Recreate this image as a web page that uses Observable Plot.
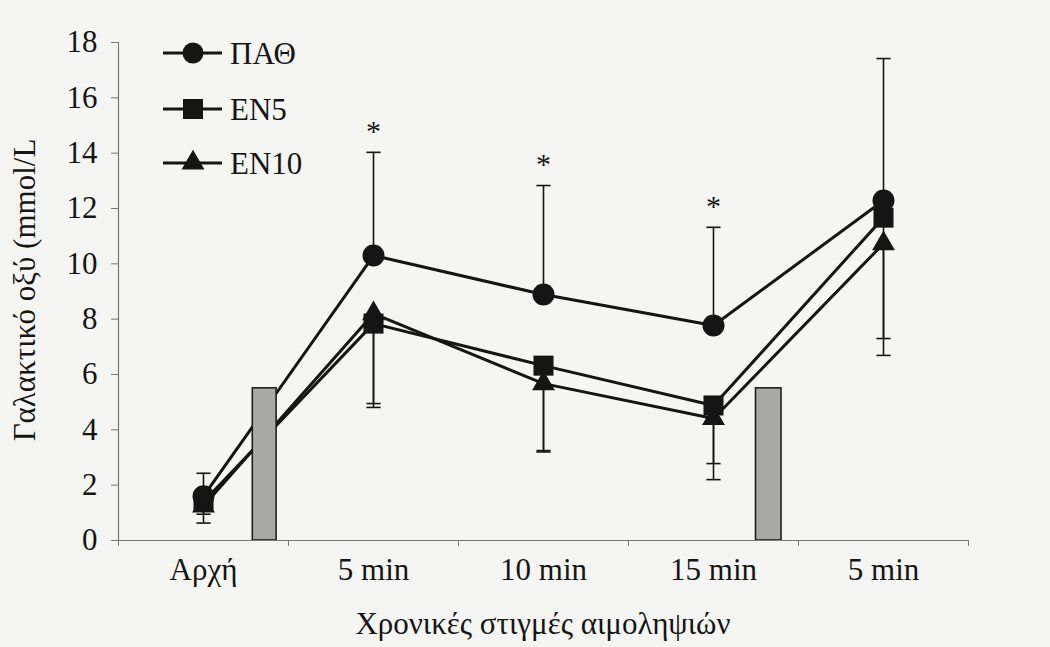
<!DOCTYPE html>
<html>
<head>
<meta charset="utf-8">
<script src="https://cdn.jsdelivr.net/npm/d3@7"></script>
<script src="https://cdn.jsdelivr.net/npm/@observablehq/plot@0.6"></script>
<style>
  html, body { margin: 0; padding: 0; background: #f5f5f3; }
  #chart { width: 1050px; height: 647px; overflow: hidden; }
</style>
</head>
<body>
<div id="chart"></div>
<script>
// ---- data ----
const categories = ["Αρχή", "5 min", "10 min", "15 min", "5 min"];
const pathMean  = [1.60, 10.30, 8.89, 7.77, 12.29];
const en5Mean   = [1.40, 7.84, 6.32, 4.88, 11.67];
const en10Mean  = [1.25, 8.20, 5.67, 4.41, 10.73];
const pathUpper = [2.43, 14.03, 12.83, 11.32, 17.42];
const en5Lower  = [0.95, 4.95, 3.25, 2.78, 7.30];
const en10Lower = [0.63, 4.81, 3.20, 2.20, 6.69];
const significant = [false, true, true, true, false];
const boutStart  = [0.29, 3.25];
const boutEnd    = [0.43, 3.40];
const boutHeight = [5.5, 5.5];
const yTicks = [0, 2, 4, 6, 8, 10, 12, 14, 16, 18];
const seriesNames = ["ΠΑΘ", "EN5", "EN10"];
const xTitle = "Χρονικές στιγμές αιμοληψιών";
const yTitle = "Γαλακτικό οξύ (mmol/L";

// ---- tables ----
const idx = categories.map((_, i) => i);
const rows = (means, ends) => idx.map(i => ({x: i, mean: means[i], end: ends ? ends[i] : null}));
const pathRows = rows(pathMean, pathUpper);
const en5Rows = rows(en5Mean, en5Lower);
const en10Rows = rows(en10Mean, en10Lower);
const stars = idx.filter(i => significant[i]).map(i => ({x: i, y: pathUpper[i]}));
const bouts = boutStart.map((s, i) => ({x1: s, x2: boutEnd[i], h: boutHeight[i]}));
const bounds = d3.range(categories.length + 1).map(i => i - 0.5);

const capSymbol = {
  draw(ctx, size) {
    const w = Math.sqrt(size);
    ctx.moveTo(-w / 2, 0);
    ctx.lineTo(w / 2, 0);
  }
};

const ink = "#151515";
const errW = 1.6;

const errMarks = (data) => [
  Plot.ruleX(data, {x: "x", y1: "mean", y2: "end", stroke: ink, strokeWidth: errW}),
  Plot.dot(data, {x: "x", y: "end", symbol: capSymbol, r: 8, stroke: ink, strokeWidth: errW, fill: "none"})
];

const plot = Plot.plot({
  width: 1050,
  height: 647,
  marginLeft: 118,
  marginRight: 82,
  marginTop: 42,
  marginBottom: 107,
  style: {background: "#f5f5f3", fontFamily: "'Liberation Serif', 'Times New Roman', serif", fontSize: "31px", color: ink},
  x: {type: "linear", domain: [-0.5, categories.length - 0.5]},
  y: {domain: [0, 18]},
  marks: [
    ...errMarks(pathRows),
    ...errMarks(en5Rows),
    ...errMarks(en10Rows),
    Plot.line(en10Rows, {x: "x", y: "mean", stroke: ink, strokeWidth: 3}),
    Plot.line(en5Rows, {x: "x", y: "mean", stroke: ink, strokeWidth: 3}),
    Plot.line(pathRows, {x: "x", y: "mean", stroke: ink, strokeWidth: 3}),
    Plot.rectY(bouts, {x1: "x1", x2: "x2", y1: 0, y2: "h", fill: "#a9a9a7", stroke: "#1e1e1e", strokeWidth: 1.6}),
    Plot.dot(en10Rows, {x: "x", y: "mean", symbol: "triangle", r: 8.5, fill: ink, stroke: "none"}),
    Plot.dot(en5Rows, {x: "x", y: "mean", symbol: "square", r: 11.3, fill: ink, stroke: "none"}),
    Plot.dot(pathRows, {x: "x", y: "mean", symbol: "circle", r: 11, fill: ink, stroke: "none"}),
    Plot.text(stars, {x: "x", y: "y", text: () => "*", dy: -21, fontSize: 30, fill: ink}),
    Plot.ruleY([0], {stroke: "#777", strokeWidth: 1.2}),
    Plot.ruleX([-0.5], {stroke: "#777", strokeWidth: 1.2}),
    Plot.axisY({ticks: yTicks, tickSize: 7, tickPadding: 14, label: null, stroke: "#777", fill: ink}),
    Plot.axisX({ticks: bounds, tickSize: 6, tickFormat: () => "", label: null, stroke: "#777"}),
    Plot.axisX({ticks: idx, tickSize: 0, tickPadding: 17, tickFormat: i => categories[i], label: null, fill: ink})
  ]
});

document.getElementById("chart").appendChild(plot);

// ---- titles and legend ----
const svg = d3.select(plot);
svg.append("text")
  .attr("x", 543).attr("y", 634)
  .attr("text-anchor", "middle")
  .attr("fill", ink)
  .style("font-size", "31px")
  .text(xTitle);
svg.append("text")
  .attr("transform", "translate(35,290) rotate(-90)")
  .attr("text-anchor", "middle")
  .attr("fill", ink)
  .style("font-size", "31px")
  .text(yTitle);

const legendSymbols = [
  {type: d3.symbolCircle, r: 10.5},
  {type: d3.symbolSquare, r: 11.3},
  {type: d3.symbolTriangle, r: 8.5}
];
const legendY = [53, 109, 163];
const lg = svg.append("g");
seriesNames.forEach((name, i) => {
  const g = lg.append("g").attr("transform", `translate(0,${legendY[i]})`);
  g.append("line").attr("x1", 163).attr("x2", 222).attr("y1", 0).attr("y2", 0)
    .attr("stroke", ink).attr("stroke-width", 3);
  g.append("path")
    .attr("transform", "translate(193,0)")
    .attr("d", d3.symbol(legendSymbols[i].type, Math.PI * legendSymbols[i].r ** 2)())
    .attr("fill", ink);
  g.append("text").attr("x", 230).attr("y", 0).attr("dy", "0.35em")
    .attr("text-anchor", "start")
    .attr("fill", ink).style("font-size", "31px").text(name);
});
</script>
</body>
</html>
